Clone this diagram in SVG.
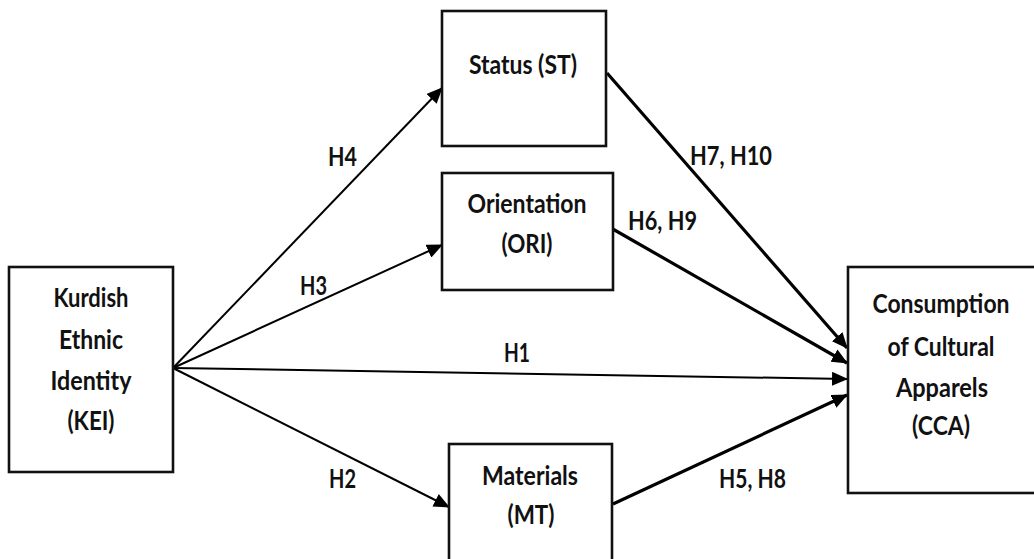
<svg xmlns="http://www.w3.org/2000/svg" width="1034" height="559" viewBox="0 0 1034 559">
<style>
.box{fill:#fff;stroke:#111;stroke-width:2.6}
.t{font-family:Lato,"Open Sans","Liberation Sans",sans-serif;font-weight:700;font-size:27px;fill:#111;text-anchor:middle}
.lbl{font-family:Lato,"Open Sans","Liberation Sans",sans-serif;font-weight:700;font-size:27px;fill:#111}
.c{stroke:#000;fill:none;marker-end:url(#ah)}
.thin{stroke-width:2}
.thick{stroke-width:3.2}
</style>
<defs>
<marker id="ah" markerUnits="userSpaceOnUse" markerWidth="16" markerHeight="14" refX="15" refY="7" orient="auto">
<path d="M0,0 L16,7 L0,14 z" fill="#000"/>
</marker>
</defs>
<rect width="1034" height="559" fill="#fff"/>
<g id="connectors">
<line class="c thin" x1="173" y1="368" x2="442" y2="88"/>
<line class="c thin" x1="173" y1="368" x2="442" y2="245"/>
<line class="c thin" x1="173" y1="368" x2="847" y2="379"/>
<line class="c thin" x1="173" y1="368" x2="449" y2="507"/>
<line class="c thick" x1="607" y1="73" x2="847" y2="348"/>
<line class="c thick" x1="611" y1="228" x2="847" y2="363"/>
<line class="c thick" x1="613" y1="504" x2="847" y2="395"/>
<text class="lbl" x="328" y="166" textLength="29" lengthAdjust="spacingAndGlyphs">H4</text>
<text class="lbl" x="300" y="295" textLength="27" lengthAdjust="spacingAndGlyphs">H3</text>
<text class="lbl" x="504" y="362" textLength="26" lengthAdjust="spacingAndGlyphs">H1</text>
<text class="lbl" x="329" y="488" textLength="27" lengthAdjust="spacingAndGlyphs">H2</text>
<text class="lbl" x="690" y="165" textLength="82" lengthAdjust="spacingAndGlyphs">H7, H10</text>
<text class="lbl" x="628" y="230" textLength="69" lengthAdjust="spacingAndGlyphs">H6, H9</text>
<text class="lbl" x="719" y="488" textLength="67" lengthAdjust="spacingAndGlyphs">H5, H8</text>
</g>
<g id="KEI">
<rect class="box" x="9" y="267" width="164" height="205"/>
<text class="t" x="91" y="307" textLength="75" lengthAdjust="spacingAndGlyphs">Kurdish</text>
<text class="t" x="91" y="349" textLength="64" lengthAdjust="spacingAndGlyphs">Ethnic</text>
<text class="t" x="91" y="390" textLength="81" lengthAdjust="spacingAndGlyphs">Identity</text>
<text class="t" x="91" y="430" textLength="47" lengthAdjust="spacingAndGlyphs">(KEI)</text>
</g>
<g id="ST">
<rect class="box" x="442" y="11" width="164" height="135"/>
<text class="t" x="523" y="74" textLength="108" lengthAdjust="spacingAndGlyphs">Status (ST)</text>
</g>
<g id="ORI">
<rect class="box" x="442" y="173" width="171" height="117"/>
<text class="t" x="527" y="213" textLength="119" lengthAdjust="spacingAndGlyphs">Orientation</text>
<text class="t" x="527" y="253" textLength="51" lengthAdjust="spacingAndGlyphs">(ORI)</text>
</g>
<g id="MT">
<rect class="box" x="449" y="444" width="163" height="125"/>
<text class="t" x="530" y="485" textLength="96" lengthAdjust="spacingAndGlyphs">Materials</text>
<text class="t" x="531" y="524" textLength="47" lengthAdjust="spacingAndGlyphs">(MT)</text>
</g>
<g id="CCA">
<rect class="box" x="848" y="267" width="195" height="226"/>
<text class="t" x="941" y="313" textLength="137" lengthAdjust="spacingAndGlyphs">Consumption</text>
<text class="t" x="941" y="356" textLength="107" lengthAdjust="spacingAndGlyphs">of Cultural</text>
<text class="t" x="942" y="397" textLength="92" lengthAdjust="spacingAndGlyphs">Apparels</text>
<text class="t" x="941" y="435" textLength="58" lengthAdjust="spacingAndGlyphs">(CCA)</text>
</g>
</svg>
